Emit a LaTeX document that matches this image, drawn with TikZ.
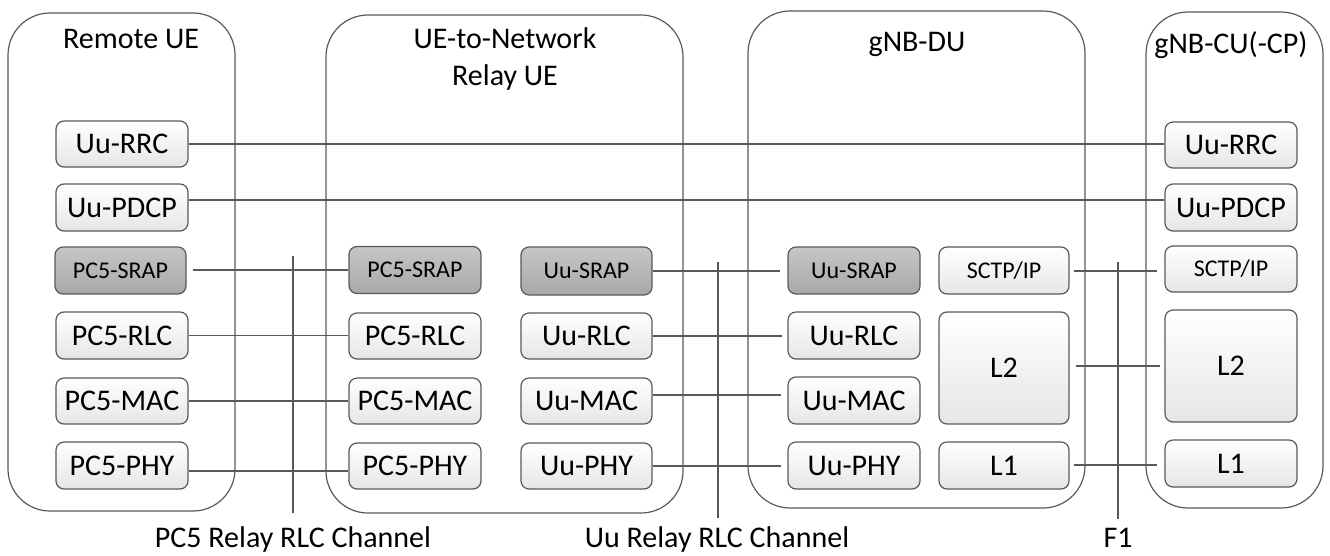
\documentclass[tikz,border=0pt]{standalone}
\usepackage{fontspec}
\setmainfont{Carlito}
\usetikzlibrary{calc}
\definecolor{ln}{HTML}{595959}
\definecolor{gtop}{HTML}{C6C6C6}
\definecolor{gbot}{HTML}{A8A8A8}
\definecolor{wbot}{HTML}{E6E6E6}
\tikzset{
 container/.style={draw=ln, line width=1.2pt, rounded corners=42pt, inner sep=0pt},
 layer/.style={draw=ln, line width=1.2pt, rounded corners=8pt, inner sep=0pt,
   top color=white, bottom color=wbot, font=\fontsize{30}{36}\selectfont,
   text height=19.3pt, text depth=0pt},
 sraplayer/.style={layer, top color=gtop, bottom color=gbot,
   font=\fontsize{24}{29}\selectfont, text height=15.5pt},
 smalllayer/.style={layer, font=\fontsize{24}{29}\selectfont, text height=15.5pt},
 link/.style={draw=ln, line width=1.2pt},
 title/.style={font=\fontsize{30}{36}\selectfont, anchor=base, inner sep=0pt},
}
\begin{document}
\begin{tikzpicture}[x=1pt,y=-1pt]
\useasboundingbox (0,0) rectangle (1330,555);
% containers
\node[container, minimum width=227pt, minimum height=498pt] (remote) at (121.5,262) {};
\node[container, minimum width=357pt, minimum height=498pt] (relay) at (504.5,264) {};
\node[container, minimum width=337pt, minimum height=497pt] (du) at (916.5,259.5) {};
\node[container, minimum width=177pt, minimum height=496pt] (cu) at (1234.5,260) {};
% titles
\node[title] (t1) at (131,48) {Remote UE};
\node[title] (t2a) at (505,48) {UE-to-Network};
\node[title] (t2b) at (505,85) {Relay UE};
\node[title] (t3) at (917,51) {gNB-DU};
\node[title] (t4) at (1231,53) {gNB-CU(-CP)};
% Remote UE layers
\node[layer, minimum width=132pt, minimum height=46pt] (rrc1) at (122,144) {Uu-RRC};
\node[layer, minimum width=132pt, minimum height=47pt] (pdcp1) at (122,207.5) {Uu-PDCP};
\node[sraplayer, minimum width=131pt, minimum height=47pt] (srap1) at (120.5,270.5) {PC5-SRAP};
\node[layer, minimum width=132pt, minimum height=47pt] (rlc1) at (122,335.5) {PC5-RLC};
\node[layer, minimum width=132pt, minimum height=46pt] (mac1) at (122,401) {PC5-MAC};
\node[layer, minimum width=132pt, minimum height=47pt] (phy1) at (122,465.5) {PC5-PHY};
% Relay UE, PC5 side
\node[sraplayer, minimum width=132pt, minimum height=47pt] (srap2) at (415,270) {PC5-SRAP};
\node[layer, minimum width=132pt, minimum height=46pt] (rlc2) at (415,336) {PC5-RLC};
\node[layer, minimum width=132pt, minimum height=46pt] (mac2) at (415,401) {PC5-MAC};
\node[layer, minimum width=132pt, minimum height=46pt] (phy2) at (415,466) {PC5-PHY};
% Relay UE, Uu side
\node[sraplayer, minimum width=131pt, minimum height=48pt] (srap3) at (586.5,271) {Uu-SRAP};
\node[layer, minimum width=131pt, minimum height=46pt] (rlc3) at (586.5,336) {Uu-RLC};
\node[layer, minimum width=131pt, minimum height=46pt] (mac3) at (586.5,401) {Uu-MAC};
\node[layer, minimum width=131pt, minimum height=46pt] (phy3) at (586.5,466) {Uu-PHY};
% gNB-DU
\node[sraplayer, minimum width=132pt, minimum height=47pt] (srap4) at (854,270.5) {Uu-SRAP};
\node[layer, minimum width=132pt, minimum height=47pt] (rlc4) at (854,335.5) {Uu-RLC};
\node[layer, minimum width=132pt, minimum height=47pt] (mac4) at (854,400.5) {Uu-MAC};
\node[layer, minimum width=132pt, minimum height=47pt] (phy4) at (854,465.5) {Uu-PHY};
\node[smalllayer, minimum width=130pt, minimum height=47pt] (sctp1) at (1004,270.5) {SCTP/IP};
\node[layer, minimum width=130pt, minimum height=112pt] (l2a) at (1004,368) {L2};
\node[layer, minimum width=130pt, minimum height=47pt] (l1a) at (1004,465.5) {L1};
% gNB-CU
\node[layer, minimum width=132pt, minimum height=46pt] (rrc2) at (1231,145) {Uu-RRC};
\node[layer, minimum width=132pt, minimum height=47pt] (pdcp2) at (1231,207.5) {Uu-PDCP};
\node[smalllayer, minimum width=132pt, minimum height=46pt] (sctp2) at (1231,269) {SCTP/IP};
\node[layer, minimum width=132pt, minimum height=112pt] (l2b) at (1231,366) {L2};
\node[layer, minimum width=132pt, minimum height=47pt] (l1b) at (1231,463.5) {L1};
% peer links
\draw[link] (rrc1.east) -- (rrc1.east -| rrc2.west);
\draw[link] ($(pdcp1.east)+(0,-7.5)$) -- ($(pdcp1.east -| pdcp2.west)+(0,-7.5)$);
\draw[link] ($(srap1.east)+(6,-0.5)$) -- ($(srap1.east -| srap2.west)+(0,-0.5)$);
\draw[link] (rlc1.east) -- (rlc1.east -| rlc2.west);
\draw[link] (mac1.east) -- (mac1.east -| mac2.west);
\draw[link] ($(phy1.east)+(0,5.5)$) -- ($(phy1.east -| phy2.west)+(0,5.5)$);
\draw[link] (srap3.east) -- ($(srap3.east -| srap4.west)+(-7,0)$);
\draw[link] (rlc3.east) -- ($(rlc3.east -| rlc4.west)+(-5,0)$);
\draw[link] ($(mac3.east)+(0,-6)$) -- ($(mac3.east -| mac4.west)+(-6,-6)$);
\draw[link] (phy3.east) -- ($(phy3.east -| phy4.west)+(-6,0)$);
\draw[link] ($(sctp1.east)+(4,0.5)$) -- ($(sctp1.east -| sctp2.west)+(-7,0.5)$);
\draw[link] ($(l2a.east)+(6,-2)$) -- ($(l2a.east -| l2b.west)+(-4,-2)$);
\draw[link] ($(l1a.east)+(4,-0.5)$) -- ($(l1a.east -| l1b.west)+(-7,-0.5)$);
% interface reference lines
\coordinate (pc5top) at (293,256);
\coordinate (pc5bot) at (293,513);
\coordinate (uutop) at (718,262);
\coordinate (uubot) at (718,518);
\coordinate (f1top) at (1118,262);
\coordinate (f1bot) at (1118,519);
\draw[link] (pc5top) -- (pc5bot);
\draw[link] (uutop) -- (uubot);
\draw[link] (f1top) -- (f1bot);
\node[title] (pc5lbl) at (293,547) {PC5 Relay RLC Channel};
\node[title] (uulbl) at (717,547) {Uu Relay RLC Channel};
\node[title] (f1lbl) at (1118,547) {F1};
\end{tikzpicture}
\end{document}
